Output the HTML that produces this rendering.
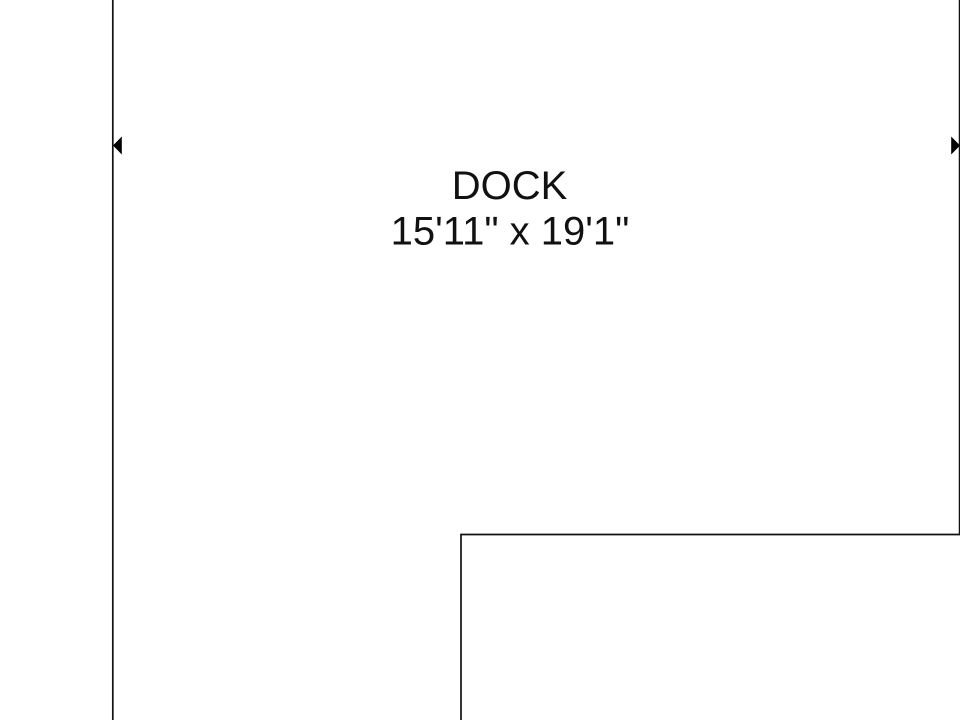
<!DOCTYPE html>
<html>
<head>
<meta charset="utf-8">
<style>
html,body{margin:0;padding:0;background:#fff;width:960px;height:720px;overflow:hidden}
svg{display:block}
text{font-family:"Liberation Sans",Arial,sans-serif;font-size:40px;fill:#111;text-anchor:middle}
</style>
</head>
<body>
<svg width="960" height="720" viewBox="0 0 960 720" xmlns="http://www.w3.org/2000/svg">
<rect width="960" height="720" fill="#fff"/>
<g fill="none" stroke="#111" stroke-width="1.7">
<path d="M112.8 0V720"/>
<path d="M959.6 0V534.5"/>
<path d="M960 534.5H461V720"/>
</g>
<path d="M113 145.5L121.8 136.5V154.5Z" fill="#000"/>
<path d="M960 145.5L951.2 136.5V154.5Z" fill="#000"/>
<text x="509.5" y="199">DOCK</text>
<text x="510" y="244.5">15'11" x 19'1"</text>
</svg>
</body>
</html>
